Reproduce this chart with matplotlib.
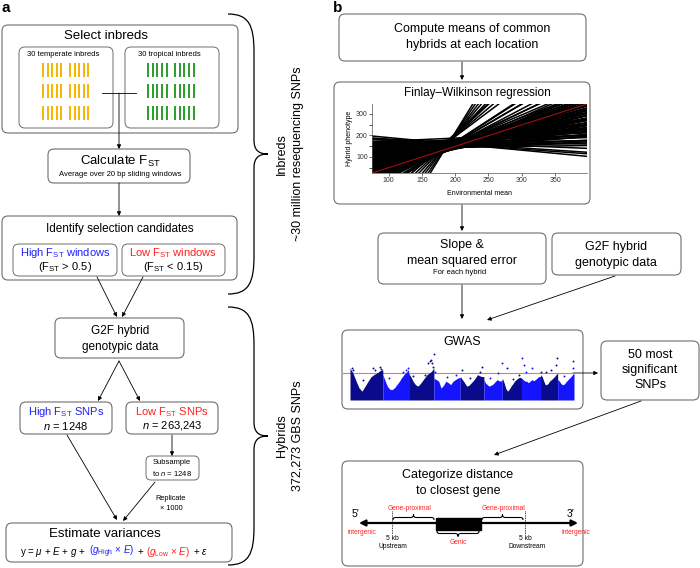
# Flowchart figure: (a) inbred Fst selection workflow, (b) FW regression + GWAS workflow
import matplotlib
matplotlib.use('Agg')
import matplotlib.pyplot as plt
import numpy as np
from matplotlib.patches import FancyBboxPatch, PathPatch, Rectangle
from matplotlib.path import Path

plt.rcParams['font.family'] = ['Liberation Sans', 'DejaVu Sans']
plt.rcParams['mathtext.fontset'] = 'custom'
plt.rcParams['mathtext.rm'] = 'Liberation Sans'
plt.rcParams['mathtext.it'] = 'Liberation Sans:italic'
plt.rcParams['mathtext.bf'] = 'Liberation Sans:bold'

# ---- data ----
n_temperate = 30
n_tropical = 30
n_high = 1248
n_low = 263243
n_replicates = 1000

# Finlay-Wilkinson lines: hybrid phenotype at environmental mean 75 (left) and 398 (right)
fw_left = [165, 160, 155, 150, 145, 140, 135, 130, 125, 120, 115, 110, 105, 100, 95, 90,
           85, 80, 75, 70, 65, 60, 55, 50, 45, 40, 35, 30, 25, 20, 10, 0, -10, -20,
           150, 135, 120, 105, 90, 75, 60, 45, 30, 15, 0, -15,
           130, 115, 100, 85, 70, 55, 40, 25, 10, -5, -20,
           60, 40, 20, 80, 100, 120, 140, 100, 80, 120, 130, 110, 150, 170,
           -60, -40, -80, -30,
           197, 188, 180, 172, 185, 160, 150,
           -93, -129, -164, -200, -247, -294, -353, -412, -80, -140, -60]
fw_right = [199, 202, 213, 213, 224, 225, 235, 236, 247, 247, 258, 258, 269, 269, 280, 280,
            291, 292, 302, 303, 314, 314, 325, 325, 336, 336, 347, 347, 358, 359, 370, 381, 392, 403,
            176, 201, 226, 251, 275, 300, 325, 350, 374, 399, 423, 448,
            170, 195, 219, 244, 269, 293, 318, 343, 367, 392, 417,
            258, 291, 327, 233, 206, 178, 153, 306, 339, 274, 165, 195, 230, 215,
            522, 480, 560, 455,
            103, 122, 140, 160, 115, 175, 190,
            650, 711, 773, 834, 916, 998, 1100, 1203, 566, 760, 520]
fw_mean = [26, 345]
env_range = [75, 398]

# GWAS: maize chromosome lengths (Mb) and upper envelope of -log10(p)
chrom_len = [301, 237, 232, 242, 217, 169, 176, 175, 157, 150]
chrom_top = [
    [8.3, 7.0, 5.0, 3.2, 2.3, 3.5, 4.8, 6.0, 6.6, 7.0, 7.6, 7.9],
    [6.6, 5.0, 3.5, 2.8, 2.7, 3.2, 4.0, 4.8, 5.8, 6.6, 7.2, 7.9],
    [7.0, 6.0, 4.8, 4.0, 3.6, 4.2, 5.0, 5.8, 6.6, 7.0, 7.5, 8.3],
    [5.7, 5.3, 4.9, 3.1, 3.8, 4.9, 4.5, 4.0, 4.9, 5.3, 5.7, 5.9],
    [6.1, 5.3, 4.5, 3.6, 3.8, 4.4, 5.0, 5.7, 6.6, 6.3, 6.1, 6.1],
    [5.3, 4.4, 4.0, 3.6, 3.8, 4.0, 4.4, 4.9, 5.3, 5.0, 4.9, 5.3],
    [5.7, 4.5, 3.0, 2.3, 2.8, 3.6, 4.2, 4.9, 5.3, 5.7, 5.9, 5.7],
    [5.7, 5.3, 4.9, 4.9, 4.5, 4.9, 5.3, 5.0, 5.3, 5.7, 6.1, 6.1],
    [6.6, 6.1, 5.0, 4.0, 4.0, 4.4, 5.0, 5.3, 5.7, 6.1, 6.6, 7.0],
    [5.3, 5.0, 4.4, 4.0, 4.0, 4.4, 4.9, 5.3, 5.7, 6.1, 6.6, 7.0],
]
snp_chrom = [1, 1, 1, 1, 1, 1, 1, 2, 2, 2, 2, 3, 3, 3, 3, 3, 3, 3, 3, 4, 4, 4,
             5, 5, 5, 5, 6, 6, 6, 7, 7, 7, 8, 8, 8, 8, 9, 9, 9, 9, 9, 10, 10, 10]
snp_pos = [15, 31, 215, 230, 277, 286, 120, 185, 216, 230, 60, 174, 193, 202, 214, 223, 229, 150, 40,
           13, 120, 200, 15, 200, 184, 90, 163, 130, 60, 41, 150, 100, 6, 21, 37, 98,
           3, 46, 92, 138, 154, 138, 144, 60]
snp_logp = [8.3, 7.9, 8.3, 7.9, 8.7, 8.1, 5.2, 7.4, 7.9, 8.3, 5.8, 9.6, 10.1, 10.5, 9.6, 8.7, 12.0, 6.6, 6.2,
            7.4, 6.0, 6.6, 7.9, 8.7, 7.4, 5.8, 9.6, 7.0, 5.6, 8.3, 6.4, 5.5, 10.8, 9.2, 7.4, 8.3,
            7.4, 7.4, 7.9, 9.2, 10.8, 10.1, 8.3, 6.2]
gwas_threshold = 7.0

# ---- figure in pixel coordinates ----
fig = plt.figure(figsize=(7, 5.68), dpi=100)
ax = fig.add_axes([0, 0, 1, 1])
ax.set_xlim(0, 700)
ax.set_ylim(568, 0)
ax.axis('off')

EDGE = '#6e6e6e'
BLUE = '#1f1fff'
RED = '#ff2020'


def rbox(x0, y0, x1, y1, r=6, lw=0.8):
    ax.add_patch(FancyBboxPatch((x0, y0), x1 - x0, y1 - y0,
                                boxstyle='round,pad=0,rounding_size=%g' % r,
                                ec=EDGE, fc='white', lw=lw, zorder=1))


def txt(x, y, s, size, color='k', **kw):
    ax.text(x, y, s, fontsize=size, color=color, ha=kw.pop('ha', 'center'),
            va=kw.pop('va', 'center'), zorder=5, **kw)


def arrow(x0, y0, x1, y1, lw=0.6, ms=6):
    ax.annotate('', xy=(x1, y1), xytext=(x0, y0),
                arrowprops=dict(arrowstyle='-|>', color='k', lw=lw, mutation_scale=ms,
                                shrinkA=0, shrinkB=0), zorder=4)


def chain(x, y, pieces, size, gap=2.5):
    # place coloured text pieces side by side, centred on x
    r = fig.canvas.get_renderer()
    ts = [ax.text(0, y, s, fontsize=size, color=c, ha='left', va='center', zorder=5)
          for s, c in pieces]
    ws = [t.get_window_extent(r).width for t in ts]
    cur = x - (sum(ws) + gap * (len(ws) - 1)) / 2
    for t, w in zip(ts, ws):
        t.set_x(cur)
        cur += w + gap


def brace(p0, p1, n, d1, d, r, r2, lw=0.8):
    p0 = np.array(p0, float)
    p1 = np.array(p1, float)
    L = np.linalg.norm(p1 - p0)
    e = (p1 - p0) / L
    n = np.array(n, float)
    h = L / 2
    k = 0.3 * (d - d1)
    loc = [(0, 0), (0, 0.8 * d1), (0.3 * r, d1), (r, d1),
           (h - r2, d1), (h - 0.3 * r2, d1), (h, d1 + k), (h, d),
           (h, d1 + k), (h + 0.3 * r2, d1), (h + r2, d1),
           (L - r, d1), (L - 0.3 * r, d1), (L, 0.8 * d1), (L, 0)]
    codes = [Path.MOVETO] + [Path.CURVE4] * 3 + [Path.LINETO] + [Path.CURVE4] * 6 + \
            [Path.LINETO] + [Path.CURVE4] * 3
    verts = [p0 + u * e + v * n for u, v in loc]
    ax.add_patch(PathPatch(Path(verts, codes), fc='none', ec='k', lw=lw, zorder=3))


# ================= panel a =================
txt(2, 8, 'a', 11, weight='bold', ha='left')

rbox(2, 25, 238, 133)
txt(106, 36, 'Select inbreds', 9.5)
rbox(19, 47, 113, 128, r=6, lw=0.7)
rbox(125, 47, 219, 128, r=6, lw=0.7)
txt(63, 55, '%d temperate inbreds' % n_temperate, 5.5)
txt(169, 55, '%d tropical inbreds' % n_tropical, 5.5)

rows = [(63, 77), (84, 98), (106, 120)]
for (ya, yb) in rows:
    for g0 in (43, 70):
        for i in range(n_temperate // 6):
            ax.plot([g0 + i * 4.6] * 2, [ya, yb], color='#f7b500', lw=1.4, solid_capstyle='butt', zorder=2)
    for g0 in (148, 175):
        for i in range(n_tropical // 6):
            ax.plot([g0 + i * 4.7] * 2, [ya, yb], color='#2a9d2a', lw=1.4, solid_capstyle='butt', zorder=2)

ax.plot([102, 136], [93, 93], color='k', lw=0.6, zorder=4)
arrow(119, 93, 119, 149)

rbox(48, 149, 190, 183)
txt(120, 161, r'Calculate F$_{\mathrm{ST}}$', 9.5)
txt(120, 174, 'Average over 20 bp sliding windows', 5.5)
arrow(119, 183, 119, 216)

rbox(2, 216, 237, 280)
txt(120, 229, 'Identify selection candidates', 8.5)
rbox(13, 244, 117, 276, lw=0.7)
rbox(122, 244, 225, 276, lw=0.7)
txt(65, 253, r'High F$_{\mathrm{ST}}$ windows', 8, BLUE)
txt(65, 267, r'(F$_{\mathrm{ST}}$ > 0.5)', 8)
txt(173, 253, r'Low F$_{\mathrm{ST}}$ windows', 8, RED)
txt(173, 267, r'(F$_{\mathrm{ST}}$ < 0.15)', 8)
arrow(97, 277, 117, 317)
arrow(143, 277, 122, 317)

rbox(55, 318, 184, 358)
txt(120, 331, 'G2F hybrid', 8.5)
txt(120, 347, 'genotypic data', 8.5)
arrow(119, 361, 98, 401)
arrow(119, 361, 140, 401)

rbox(20, 402, 112, 434)
rbox(126, 402, 218, 434)
txt(66, 412, r'High F$_{\mathrm{ST}}$ SNPs', 8, BLUE)
txt(66, 426, r'$n$ = %d' % n_high, 8)
txt(172, 412, r'Low F$_{\mathrm{ST}}$ SNPs', 8, RED)
txt(172, 426, r'$n$ = {:,}'.format(n_low), 8)

arrow(172, 435, 172, 456)
rbox(146, 456, 199, 480, r=5, lw=0.7)
txt(172, 463, 'Subsample', 5.5)
txt(172, 473, r'to $n$ = %d' % n_high, 5.5)
arrow(155, 482, 123, 521)
txt(171, 498, 'Replicate', 5.3)
txt(171, 508, u'\u00d7 %d' % n_replicates, 5.3)
arrow(67, 435, 117, 520)

rbox(6, 523, 232, 562)
txt(105, 534, 'Estimate variances', 9.5)
chain(114, 552, [(r'y = $\mu$ + $E$ + $g$ +', 'k'),
                 (r'($g_{\mathrm{High}}$ $\times$ $E$)', BLUE),
                 ('+', 'k'),
                 (r'($g_{\mathrm{Low}}$ $\times$ $E$)', RED),
                 (r'+ $\varepsilon$', 'k')], 7, gap=3)

# braces and labels
brace((228, 14), (228, 294), (1, 0), 26, 40, 38, 14, lw=0.9)
brace((228, 307), (228, 565), (1, 0), 26, 40, 38, 14, lw=0.9)
txt(282, 154, 'Inbreds', 9, rotation=90)
txt(298, 154, '~30 million resequencing SNPs', 9, rotation=90)
txt(282, 436, 'Hybrids', 9, rotation=90)
txt(298, 436, '372,273 GBS SNPs', 9, rotation=90)

# ================= panel b =================
txt(333, 8, 'b', 11, weight='bold', ha='left')

rbox(339, 14, 586, 61)
txt(472, 29, 'Compute means of common', 9)
txt(472, 45, 'hybrids at each location', 9)
arrow(462, 62, 462, 80)

rbox(334, 82, 590, 204)
txt(477, 93, u'Finlay\u2013Wilkinson regression', 8.5)
arrow(462, 205, 462, 231)

rbox(378, 233, 546, 284)
txt(462, 245, 'Slope &', 9)
txt(462, 261, 'mean squared error', 9)
txt(460, 273, 'For each hybrid', 5.5)
rbox(552, 233, 681, 275)
txt(616, 247, 'G2F hybrid', 9)
txt(616, 263, 'genotypic data', 9)
arrow(462, 285, 462, 319)
arrow(615, 276, 487, 320)

rbox(342, 330, 583, 409)
txt(462, 342, 'GWAS', 9)
ax.plot([343, 573], [373, 373], color='#f07070', lw=0.8, zorder=6)
arrow(573, 373, 598, 373)

rbox(601, 341, 699, 400)
txt(650, 355, '50 most', 9)
txt(650, 370, 'significant', 9)
txt(650, 385, 'SNPs', 9)
arrow(641, 401, 494, 455)

rbox(342, 461, 583, 566)
txt(458, 475, 'Categorize distance', 9)
txt(458, 491, 'to closest gene', 9)
ax.annotate('', xy=(359, 523), xytext=(578, 523),
            arrowprops=dict(arrowstyle='<|-|>', color='k', lw=1.6, mutation_scale=9,
                            shrinkA=0, shrinkB=0), zorder=4)
ax.add_patch(Rectangle((436, 517.5), 45, 12.5, fc='k', ec='k', zorder=5))
ax.plot([392, 392], [511, 534], color='k', lw=0.6, ls=(0, (1, 1)), zorder=4)
ax.plot([525, 525], [511, 534], color='k', lw=0.6, ls=(0, (1, 1)), zorder=4)
brace((393, 520), (434, 520), (0, -1), 2.5, 5.5, 3, 3, lw=0.8)
brace((482, 520), (523, 520), (0, -1), 2.5, 5.5, 3, 3, lw=0.8)
brace((437, 531), (479, 531), (0, 1), 2.5, 5.5, 3, 3, lw=0.8)
txt(355, 514, u'5\u2032', 7.5)
txt(571, 514, u'3\u2032', 7.5)
txt(409, 508, 'Gene-proximal', 4.8, RED)
txt(504, 508, 'Gene-proximal', 4.8, RED)
txt(362, 533, 'intergenic', 4.8, RED)
txt(576, 533, 'intergenic', 4.8, RED)
txt(458, 542, 'Genic', 4.8, RED)
txt(392, 538, '5 kb', 4.8)
txt(393, 546, 'Upstream', 4.8)
txt(525, 538, '5 kb', 4.8)
txt(527, 546, 'Downstream', 4.8)

# ---- FW regression inset ----
fw = fig.add_axes([372 / 700, 1 - 173 / 568, 215 / 700, 69 / 568])
fw.set_facecolor('none')
for yl, yr in zip(fw_left, fw_right):
    fw.plot(env_range, [yl, yr], color='k', lw=1.1)
fw.plot(env_range, fw_mean, color='#a01010', lw=0.8)
fw.set_xlim(env_range)
fw.set_ylim(26, 345)
fw.set_xticks([100, 150, 200, 250, 300, 350])
fw.set_yticks([100, 200, 300])
fw.set_yticks([50, 150, 250], minor=True)
fw.tick_params(labelsize=5, length=2, width=0.5, pad=1, colors='#333333')
fw.tick_params(which='minor', length=2, width=0.5)
for sp in ('top', 'right'):
    fw.spines[sp].set_visible(False)
for sp in ('left', 'bottom'):
    fw.spines[sp].set_linewidth(0.5)
    fw.spines[sp].set_color('#555555')
fw.set_xlabel('Environmental mean', fontsize=5, labelpad=4)
fw.set_ylabel('Hybrid phenotype', fontsize=5, labelpad=2)

# ---- Manhattan inset ----
gw = fig.add_axes([350 / 700, 1 - 400 / 568, 224 / 700, 50 / 568])
gw.set_facecolor('none')
gw.axis('off')
starts = np.concatenate([[0], np.cumsum(chrom_len)[:-1]])
cols = ['#0a0a8c', '#1414ff']
for i, (st, ln, top) in enumerate(zip(starts, chrom_len, chrom_top)):
    px = st + np.linspace(0, ln, len(top))
    gw.fill_between(px, 0, top, color=cols[i % 2], lw=0, zorder=2)
for c, p, lp in zip(snp_chrom, snp_pos, snp_logp):
    gw.plot(starts[c - 1] + p, lp, 'o', ms=1.4, mew=0, color=cols[(c - 1) % 2], zorder=3)
gw.set_xlim(0, sum(chrom_len))
gw.set_ylim(0, 13)

fig.savefig('out.png', dpi=100)
